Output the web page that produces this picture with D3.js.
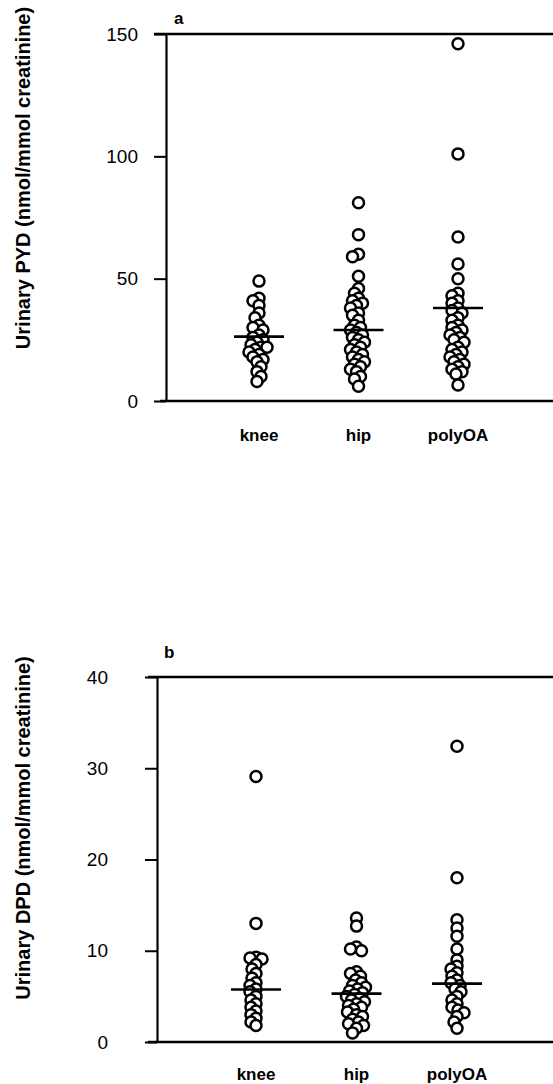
<!DOCTYPE html>
<html>
<head>
<meta charset="utf-8">
<script src="https://cdn.jsdelivr.net/npm/d3@7"></script>
<style>
  body { margin: 0; background: #fff; }
  text { font-family: "Liberation Sans", Arial, sans-serif; fill: #000; }
</style>
</head>
<body>
<div id="chart"></div>
<script>
// categories on the x axis
var categories = ["knee", "hip", "polyOA"];

// panel a: urinary PYD (nmol/mmol creatinine)
var pydKnee = [49, 42, 41, 39, 36, 34, 31, 30, 29, 27, 26, 25, 24, 23, 22, 22, 21, 20, 19, 18, 17, 16, 14, 12, 10, 8];
var pydHip = [81, 68, 60, 59, 51, 46, 44, 42, 41, 40, 39, 38, 36, 35, 33, 31, 30, 29, 28, 27, 26, 25, 24, 23, 22, 21, 20, 19, 18, 17, 16, 15, 14, 13, 12, 10, 9, 6];
var pydPoly = [146, 101, 67, 56, 50, 44, 43, 41, 40, 38, 37, 36, 34, 33, 31, 30, 29, 28, 27, 26, 25, 24, 22, 21, 20, 19, 18, 17, 16, 15, 14, 13, 12, 11, 6.5];
var pydMedians = [26.3, 29, 38];
var pydTicks = [0, 50, 100, 150];

// panel b: urinary DPD (nmol/mmol creatinine)
var dpdKnee = [29.1, 13, 9.3, 9.2, 9.1, 8.5, 8, 7.5, 7, 6.5, 6.2, 5.8, 5.5, 5, 4.6, 4.2, 3.8, 3.4, 3, 2.6, 2.2, 1.8];
var dpdHip = [13.6, 12.7, 10.4, 10.2, 10.0, 7.7, 7.5, 7.2, 6.8, 6.5, 6.2, 6, 5.8, 5.6, 5.4, 5.2, 5, 4.8, 4.6, 4.4, 4.2, 4, 3.8, 3.6, 3.3, 3, 2.8, 2.5, 2.2, 2, 1.8, 1.5, 1];
var dpdPoly = [32.4, 18, 13.4, 12.5, 11.6, 10.2, 9, 8.3, 8, 7.6, 7.2, 6.8, 6.5, 6.2, 5.8, 5.5, 5, 4.6, 4.2, 3.8, 3.5, 3.2, 2.8, 2.2, 1.5];
var dpdMedians = [5.75, 5.3, 6.4];
var dpdTicks = [0, 10, 20, 30, 40];

var width = 553;
var height = 1084;

var svg = d3.select("#chart")
    .append("svg")
    .attr("width", width)
    .attr("height", height);

svg.append("rect").attr("width", width).attr("height", height).attr("fill", "#fff");

// spread overlapping points sideways (simple dodge)
function dodge(values, y, minDist) {
    var placed = [];
    values.forEach(function(v) {
        var py = y(v);
        var off = 0;
        for (var k = 0; k < 40; k++) {
            var cand = (k % 2 === 0 ? 1 : -1) * Math.ceil(k / 2);
            var ok = placed.every(function(p) {
                var dx = p.dx - cand, dy = p.y - py;
                return dx * dx + dy * dy >= minDist * minDist;
            });
            if (ok) { off = cand; break; }
        }
        placed.push({v: v, y: py, dx: off});
    });
    return placed;
}

function drawPanel(cfg) {
    var y = d3.scaleLinear().domain([0, cfg.max]).range([cfg.yBottom, cfg.yTop]);
    var x = d3.scalePoint().domain(categories).range(cfg.xRange);
    var g = svg.append("g");

    // top and bottom frame lines
    g.append("line")
        .attr("x1", cfg.topLeft).attr("x2", width)
        .attr("y1", y(cfg.max)).attr("y2", y(cfg.max))
        .attr("stroke", "#000").attr("stroke-width", 2.4);
    g.append("line")
        .attr("x1", cfg.bottomLeft).attr("x2", width)
        .attr("y1", y(0)).attr("y2", y(0))
        .attr("stroke", "#000").attr("stroke-width", 2.4);

    var axis = g.append("g")
        .attr("transform", `translate(${cfg.axisX},0)`)
        .call(d3.axisLeft(y).tickValues(cfg.ticks).tickSize(12).tickSizeOuter(0).tickPadding(cfg.tickPad));
    axis.select(".domain").attr("stroke-width", 2.2);
    axis.selectAll(".tick line").attr("stroke-width", 2);
    axis.selectAll(".tick text")
        .style("font-size", "19px")
        .style("font-family", "'Liberation Sans', Arial, sans-serif")
        .attr("fill", "#000");

    // y title
    g.append("text")
        .attr("transform", `translate(${cfg.titleX},${cfg.titleY}) rotate(-90)`)
        .style("text-anchor", "middle")
        .style("font-size", "20px")
        .style("font-weight", "bold")
        .text(cfg.title);

    // panel letter
    g.append("text")
        .attr("x", cfg.letterX).attr("y", cfg.letterY)
        .style("font-size", "17px")
        .style("font-weight", "bold")
        .text(cfg.letter);

    // category labels
    g.selectAll("text.cat")
        .data(categories)
        .enter()
        .append("text")
        .attr("class", "cat")
        .attr("x", d => x(d))
        .attr("y", cfg.catY)
        .style("text-anchor", "middle")
        .style("font-size", "17px")
        .style("font-weight", "bold")
        .text(d => d);

    // points
    cfg.groups.forEach(function(vals, i) {
        var pts = dodge(vals, y, 6);
        g.selectAll(null)
            .data(pts)
            .enter()
            .append("circle")
            .attr("cx", d => x(categories[i]) + d.dx)
            .attr("cy", d => d.y)
            .attr("r", 5.5)
            .attr("fill", "#fff")
            .attr("stroke", "#000")
            .attr("stroke-width", 2.5);
    });

    // median bars
    g.selectAll("line.med")
        .data(cfg.medians)
        .enter()
        .append("line")
        .attr("class", "med")
        .attr("x1", (d, i) => x(categories[i]) - 25)
        .attr("x2", (d, i) => x(categories[i]) + 25)
        .attr("y1", d => y(d))
        .attr("y2", d => y(d))
        .attr("stroke", "#000")
        .attr("stroke-width", 2.6);
}

drawPanel({
    max: 150, yBottom: 401, yTop: 34, xRange: [259, 458],
    axisX: 166, tickPad: 16, ticks: pydTicks,
    topLeft: 154, bottomLeft: 160,
    title: "Urinary PYD (nmol/mmol creatinine)", titleX: 30, titleY: 178,
    letter: "a", letterX: 174, letterY: 24, catY: 441,
    groups: [pydKnee, pydHip, pydPoly], medians: pydMedians
});

drawPanel({
    max: 40, yBottom: 1042, yTop: 677, xRange: [256, 457],
    axisX: 157, tickPad: 37, ticks: dpdTicks,
    topLeft: 148, bottomLeft: 148,
    title: "Urinary DPD (nmol/mmol creatinine)", titleX: 30, titleY: 828,
    letter: "b", letterX: 164, letterY: 658, catY: 1080,
    groups: [dpdKnee, dpdHip, dpdPoly], medians: dpdMedians
});
</script>
</body>
</html>
